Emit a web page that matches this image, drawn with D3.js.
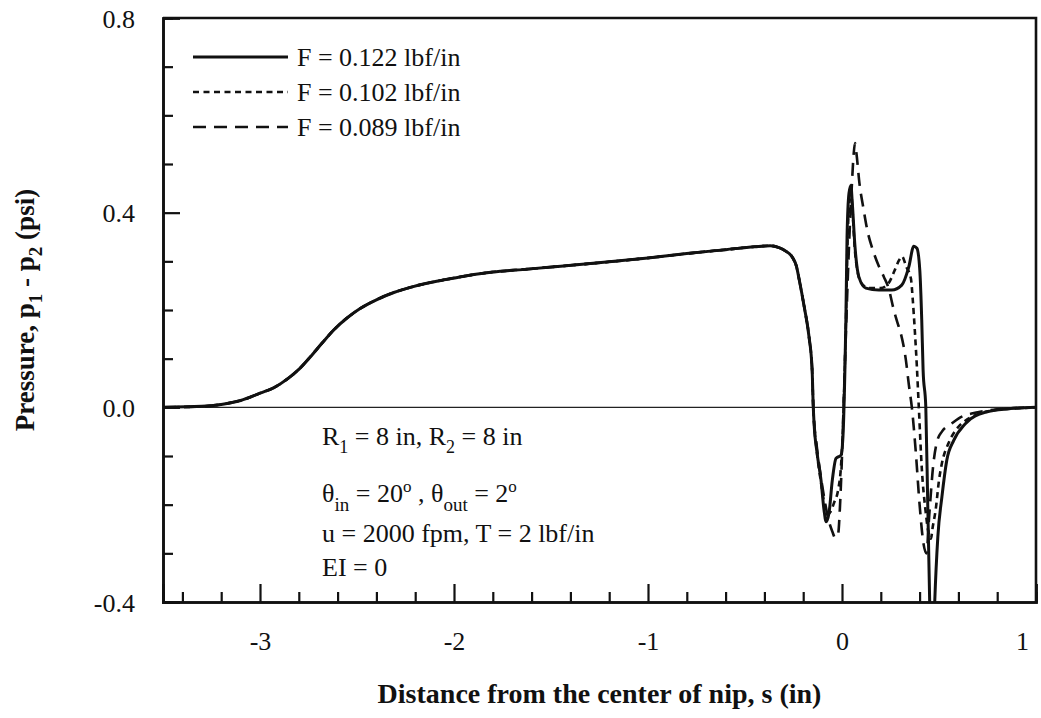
<!DOCTYPE html>
<html>
<head>
<meta charset="utf-8">
<script src="https://cdn.jsdelivr.net/npm/d3@7"></script>
<style>
  html, body { margin: 0; padding: 0; background: #fff; }
  svg { display: block; }
  text { font-family: "Liberation Serif", "Times New Roman", serif; fill: #111; }
</style>
</head>
<body>
<svg id="chart" width="1041" height="718"></svg>
<script>
// Pressure distribution through the nip, s in inches, p1 - p2 in psi.
// Common inlet branch (all three tension cases coincide here).
const inletS = [-3.5, -3.3, -3.2, -3.1, -3.0, -2.93, -2.86, -2.8, -2.74, -2.68, -2.62, -2.55, -2.48, -2.4, -2.31, -2.22, -2.14, -2.05, -1.97, -1.8, -1.62, -1.45, -1.2, -1.0, -0.8, -0.6, -0.45, -0.37, -0.324, -0.29, -0.257, -0.235, -0.22, -0.195, -0.17, -0.154, -0.148];
const inletP = [0, 0.002, 0.006, 0.014, 0.029, 0.04, 0.058, 0.078, 0.104, 0.132, 0.159, 0.184, 0.204, 0.221, 0.236, 0.247, 0.255, 0.262, 0.268, 0.278, 0.284, 0.29, 0.299, 0.307, 0.316, 0.324, 0.33, 0.332, 0.328, 0.321, 0.309, 0.29, 0.261, 0.207, 0.145, 0.077, 0.0];

// F = 0.122 lbf/in
const f122S = [-0.144, -0.128, -0.108, -0.093, -0.082, -0.067, -0.05, -0.031, -0.005, 0.005, 0.015, 0.02, 0.026, 0.036, 0.046, 0.053, 0.067, 0.087, 0.123, 0.19, 0.257, 0.308, 0.344, 0.37, 0.386, 0.401, 0.411, 0.418, 0.432, 0.442, 0.452, 0.462, 0.478, 0.494, 0.515, 0.54, 0.576, 0.637, 0.74, 0.86, 1.0];
const f122P = [-0.033, -0.095, -0.15, -0.21, -0.235, -0.217, -0.15, -0.105, -0.098, -0.06, 0.077, 0.18, 0.35, 0.44, 0.456, 0.42, 0.33, 0.268, 0.245, 0.241, 0.241, 0.251, 0.288, 0.331, 0.327, 0.282, 0.18, 0.077, 0.0, -0.2, -0.4, -0.62, -0.4, -0.266, -0.184, -0.109, -0.068, -0.033, -0.01, -0.003, 0];

// F = 0.102 lbf/in
const f102S = [-0.13, -0.11, -0.09, -0.075, -0.06, -0.04, -0.02, -0.005, 0.005, 0.012, 0.02, 0.028, 0.037, 0.046, 0.055, 0.065, 0.08, 0.1, 0.14, 0.2, 0.24, 0.27, 0.295, 0.31, 0.33, 0.355, 0.365, 0.375, 0.386, 0.396, 0.412, 0.43, 0.45, 0.458, 0.468, 0.483, 0.5, 0.515, 0.55, 0.6, 0.637, 0.7, 0.8, 0.9, 1.0];
const f102P = [-0.09, -0.15, -0.2, -0.22, -0.215, -0.195, -0.17, -0.12, -0.04, 0.05, 0.17, 0.33, 0.42, 0.445, 0.4, 0.33, 0.28, 0.255, 0.245, 0.245, 0.255, 0.28, 0.303, 0.31, 0.29, 0.265, 0.22, 0.16, 0.083, 0.0, -0.13, -0.21, -0.265, -0.27, -0.245, -0.21, -0.15, -0.115, -0.073, -0.04, -0.027, -0.014, -0.005, -0.002, 0];

// F = 0.089 lbf/in
const f089S = [-0.13, -0.11, -0.09, -0.07, -0.05, -0.035, -0.02, -0.01, 0.0, 0.008, 0.02, 0.035, 0.05, 0.06, 0.067, 0.075, 0.09, 0.11, 0.13, 0.16, 0.19, 0.216, 0.24, 0.267, 0.285, 0.303, 0.329, 0.345, 0.36, 0.38, 0.4, 0.42, 0.435, 0.45, 0.47, 0.49, 0.515, 0.56, 0.6, 0.7, 0.8, 1.0];
const f089P = [-0.08, -0.14, -0.19, -0.23, -0.255, -0.268, -0.26, -0.2, -0.1, 0.0, 0.15, 0.32, 0.45, 0.52, 0.543, 0.52, 0.46, 0.41, 0.365, 0.322, 0.29, 0.268, 0.245, 0.2, 0.175, 0.152, 0.098, 0.045, 0.0, -0.09, -0.2, -0.28, -0.3, -0.22, -0.12, -0.07, -0.05, -0.035, -0.023, -0.01, -0.004, 0];

const legendLabels = ["F = 0.122 lbf/in", "F = 0.102 lbf/in", "F = 0.089 lbf/in"];
const xTickValues = [-3, -2, -1, 0, 1];
const xTickLabels = ["-3", "-2", "-1", "0", "1"];
const yTickValues = [-0.4, 0.0, 0.4, 0.8];
const yTickLabels = ["-0.4", "0.0", "0.4", "0.8"];

const svg = d3.select("#chart");
const W = 1041, H = 718;
const m = { left: 163, right: W - 1036, top: 18, bottom: H - 602 };

const x = d3.scaleLinear().domain([-3.5, 1]).range([m.left, W - m.right]);
const y = d3.scaleLinear().domain([-0.4, 0.8]).range([H - m.bottom, m.top]);

const zip = (s, p) => s.map((v, i) => [v, p[i]]);
const inlet = zip(inletS, inletP);
const series = [
  { pts: inlet.concat(zip(f122S, f122P)), dash: null },
  { pts: inlet.concat(zip(f102S, f102P)), dash: "6,4.5" },
  { pts: inlet.concat(zip(f089S, f089P)), dash: "13,8" }
];

svg.append("defs").append("clipPath").attr("id", "plotClip")
  .append("rect")
  .attr("x", x(-3.5)).attr("y", y(0.8))
  .attr("width", x(1) - x(-3.5)).attr("height", y(-0.4) - y(0.8));

// zero reference line
svg.append("line")
  .attr("x1", x(-3.5)).attr("x2", x(1))
  .attr("y1", y(0)).attr("y2", y(0))
  .attr("stroke", "#222").attr("stroke-width", 1.4);

const line = d3.line().x(d => x(d[0])).y(d => y(d[1])).curve(d3.curveMonotoneX);

const curves = svg.append("g").attr("clip-path", "url(#plotClip)");
// draw dashed and dotted first so the solid curve sits on top
[2, 1, 0].forEach(i => {
  const s = series[i];
  curves.append("path")
    .attr("d", line(s.pts))
    .attr("fill", "none")
    .attr("stroke", "#111")
    .attr("stroke-width", i === 0 ? 3 : 2.6)
    .attr("stroke-linejoin", "round")
    .attr("stroke-dasharray", s.dash);
});

// axes: bottom with minor ticks every 0.2, left with minor ticks every 0.1
const xMinor = d3.range(-3.4, 1.0001, 0.2).filter(v => Math.abs(v - Math.round(v)) > 1e-6);
const yMinor = d3.range(-0.3, 0.8, 0.1).filter(v => Math.abs(v / 0.4 - Math.round(v / 0.4)) > 1e-6);

const gx = svg.append("g").attr("transform", `translate(0,${y(-0.4)})`);
gx.call(d3.axisBottom(x).tickValues(xTickValues).tickSize(-18).tickFormat((d, i) => xTickLabels[i]).tickPadding(30));
gx.append("g").call(d3.axisBottom(x).tickValues(xMinor).tickSize(-10).tickFormat(""));
// the last label sits just inside the frame's right edge
gx.selectAll(".tick text").filter(d => d === 1).attr("dx", -14);

const gy = svg.append("g").attr("transform", `translate(${x(-3.5)},0)`);
gy.call(d3.axisLeft(y).tickValues(yTickValues).tickSize(-17).tickFormat((d, i) => yTickLabels[i]).tickPadding(28));
gy.append("g").call(d3.axisLeft(y).tickValues(yMinor).tickSize(-10).tickFormat(""));

svg.selectAll(".domain").attr("stroke", "#111").attr("stroke-width", 2.6);
svg.selectAll(".tick line").attr("stroke", "#111").attr("stroke-width", 2.2);
svg.selectAll(".tick text").attr("font-size", 26).attr("font-family", "Liberation Serif").attr("fill", "#111");
gy.selectAll(".tick text").attr("dy", "0.35em");

// top and right frame
svg.append("path")
  .attr("d", `M${x(-3.5)},${y(0.8)}H${x(1)}V${y(-0.4)}`)
  .attr("fill", "none").attr("stroke", "#111").attr("stroke-width", 2.6);

// legend
const legend = svg.append("g");
legendLabels.forEach((lab, i) => {
  const yy = 57 + i * 35;
  legend.append("line")
    .attr("x1", 193).attr("x2", 288).attr("y1", yy).attr("y2", yy)
    .attr("stroke", "#111").attr("stroke-width", i === 0 ? 3 : 2.6)
    .attr("stroke-dasharray", series[i].dash);
  legend.append("text")
    .attr("x", 297).attr("y", yy + 9)
    .attr("font-size", 26)
    .text(lab);
});

// parameter annotation
const note = svg.append("g").attr("font-size", 26);
const t1 = note.append("text").attr("x", 322).attr("y", 445);
t1.append("tspan").text("R");
t1.append("tspan").attr("font-size", 18).attr("dy", 8).text("1");
t1.append("tspan").attr("dy", -8).text(" = 8 in, R");
t1.append("tspan").attr("font-size", 18).attr("dy", 8).text("2");
t1.append("tspan").attr("dy", -8).text(" = 8 in");

const t2 = note.append("text").attr("x", 322).attr("y", 502);
t2.append("tspan").text("θ");
t2.append("tspan").attr("font-size", 19).attr("dy", 9).text("in");
t2.append("tspan").attr("dy", -9).text(" = 20");
t2.append("tspan").attr("font-size", 17).attr("dy", -10).text("o");
t2.append("tspan").attr("dy", 10).text(" , θ");
t2.append("tspan").attr("font-size", 19).attr("dy", 9).text("out");
t2.append("tspan").attr("dy", -9).text(" = 2");
t2.append("tspan").attr("font-size", 17).attr("dy", -10).text("o");

note.append("text").attr("x", 322).attr("y", 542).text("u = 2000 fpm, T = 2 lbf/in");
note.append("text").attr("x", 322).attr("y", 576).text("EI = 0");

// axis titles
svg.append("text")
  .attr("x", (x(-3.5) + x(1)) / 2).attr("y", 703)
  .attr("text-anchor", "middle")
  .attr("font-size", 28).attr("font-weight", "bold")
  .text("Distance from the center of nip, s (in)");

const yt = svg.append("text")
  .attr("transform", `translate(34,${(y(0.8) + y(-0.4)) / 2}) rotate(-90)`)
  .attr("text-anchor", "middle")
  .attr("font-size", 27).attr("font-weight", "bold");
yt.append("tspan").text("Pressure, p");
yt.append("tspan").attr("font-size", 19).attr("dy", 8).text("1");
yt.append("tspan").attr("dy", -8).text(" - p");
yt.append("tspan").attr("font-size", 19).attr("dy", 8).text("2");
yt.append("tspan").attr("dy", -8).text(" (psi)");
</script>
</body>
</html>
